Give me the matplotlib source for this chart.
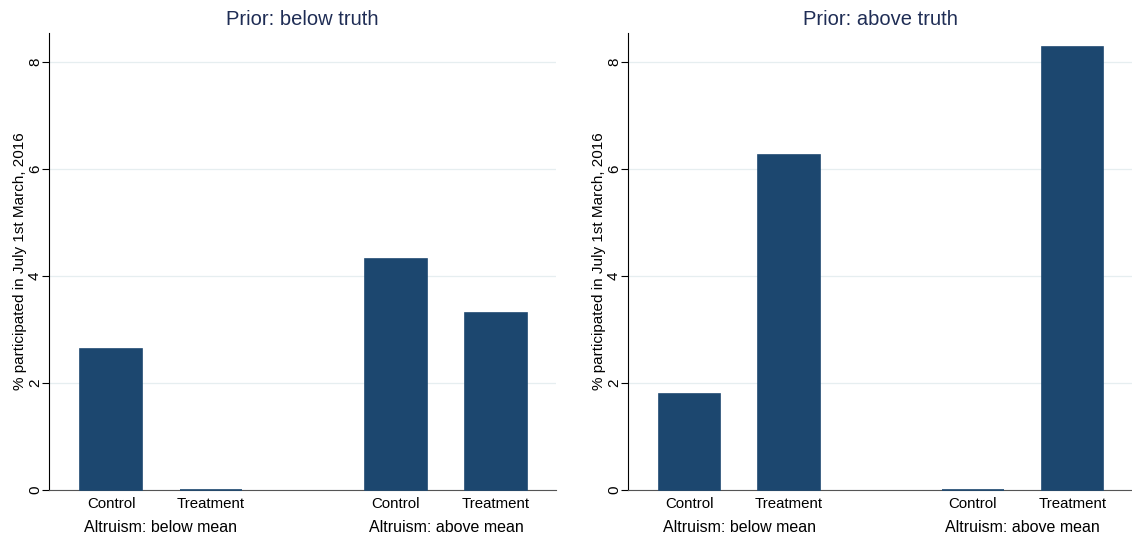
import matplotlib
matplotlib.use('Agg')
import matplotlib.pyplot as plt

# bar values (% participated)
panel_titles = ['Prior: below truth', 'Prior: above truth']
groups = ['Altruism: below mean', 'Altruism: above mean']
arms = ['Control', 'Treatment']
below_truth = [2.64, 0.0, 4.32, 3.31]
above_truth = [1.79, 6.26, 0.0, 8.28]
yticks = [0, 2, 4, 6, 8]

bar_color = '#1c476f'
title_color = '#1f2d55'
grid_color = '#e6eef0'

plt.rcParams['font.family'] = ['Liberation Sans', 'DejaVu Sans']

fig = plt.figure(figsize=(11.32, 5.39), dpi=100)
ax1 = fig.add_axes([0.0433, 0.0909, 0.4478, 0.848])
ax2 = fig.add_axes([0.5548, 0.0909, 0.4452, 0.848])

positions = [0, 1, 2.85, 3.85]

for ax, title, vals in [(ax1, panel_titles[0], below_truth), (ax2, panel_titles[1], above_truth)]:
    ax.bar(positions, vals, width=0.62, color=bar_color, edgecolor=bar_color,
           linewidth=1.2, zorder=3, clip_on=False)
    ax.set_xlim(-0.62, 4.45)
    ax.set_ylim(0, 8.54)
    ax.set_yticks(yticks)
    ax.set_yticklabels([str(t) for t in yticks], rotation=90, va='center', fontsize=11)
    ax.tick_params(axis='y', length=5, width=0.8, pad=0)
    ax.set_xticks(positions)
    ax.set_xticklabels(arms * 2, fontsize=10.8)
    ax.tick_params(axis='x', length=0, pad=5)
    ax.grid(axis='y', color=grid_color, linewidth=0.9, zorder=0)
    ax.set_axisbelow(True)
    for s in ['top', 'right']:
        ax.spines[s].set_visible(False)
    ax.spines['left'].set_linewidth(0.8)
    ax.spines['bottom'].set_linewidth(0.8)
    ax.spines['bottom'].set_color('#555555')
    ax.set_title(title, color=title_color, fontsize=14.5, pad=6)
    ax.set_ylabel('% participated in July 1st March, 2016', fontsize=11, labelpad=1)
    for i, g in enumerate(groups):
        xc = (positions[2 * i] + positions[2 * i + 1]) / 2
        ax.text(xc, -0.081, g, transform=ax.get_xaxis_transform(),
                ha='center', va='center', fontsize=11.5)

fig.savefig('out.png', dpi=100)
